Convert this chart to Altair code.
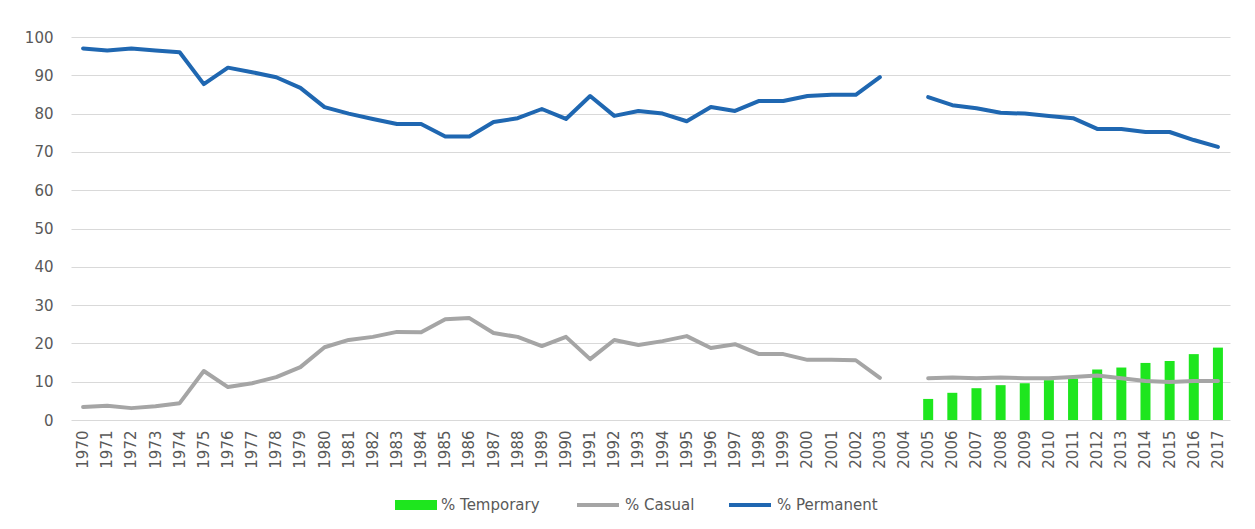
import altair as alt
import pandas as pd

years = [str(y) for y in range(1970, 2018)]

permanent = [97.0, 96.5, 97.0, 96.5, 96.0, 87.7, 92.0, 90.8, 89.5, 86.7,
             81.7, 80.0, 78.6, 77.3, 77.3, 74.0, 74.0, 77.8, 78.8, 81.2,
             78.6, 84.6, 79.4, 80.7, 80.0, 78.0, 81.7, 80.7, 83.3, 83.3,
             84.6, 84.9, 84.9, 89.5, None, 84.3, 82.2, 81.4, 80.2, 80.0,
             79.4, 78.8, 76.0, 76.0, 75.2, 75.2, 73.1, 71.3]

casual = [3.4, 3.7, 3.1, 3.6, 4.4, 12.8, 8.6, 9.6, 11.2, 13.8,
          19.0, 20.9, 21.7, 23.0, 22.9, 26.3, 26.6, 22.7, 21.7, 19.3,
          21.7, 15.9, 20.9, 19.6, 20.6, 21.9, 18.8, 19.8, 17.2, 17.2,
          15.7, 15.7, 15.6, 11.0, None, 10.9, 11.1, 10.9, 11.1, 10.9,
          10.9, 11.2, 11.6, 10.9, 10.2, 9.9, 10.2, 10.2]

temporary = [None] * 35 + [5.5, 7.1, 8.3, 9.1, 9.6, 10.4, 10.8, 13.2, 13.7,
                           14.9, 15.4, 17.2, 18.9]

line_series = ["% Casual", "% Permanent"]
bar_series = ["% Temporary"]

rows = []
for name, vals in zip(line_series, [casual, permanent]):
    for y, v in zip(years, vals):
        if v is not None:
            rows.append({"year": y, "series": name, "value": v,
                         "segment": "a" if int(y) < 2004 else "b"})
lines_df = pd.DataFrame(rows)

bar_rows = [{"year": y, "series": bar_series[0], "value": v}
            for y, v in zip(years, temporary) if v is not None]
bars_df = pd.DataFrame(bar_rows)

FONT = "DejaVu Sans"
TXT = "#595959"

x_enc = alt.X(
    "year:O",
    scale=alt.Scale(domain=years, paddingInner=0, paddingOuter=0),
    axis=alt.Axis(title=None, labelAngle=270, ticks=False, tickSize=0,
                  domain=False, grid=False, labelPadding=10,
                  labelFont=FONT, labelFontSize=15, labelColor=TXT),
)
y_enc = alt.Y(
    "value:Q",
    scale=alt.Scale(domain=[0, 100], nice=False),
    axis=alt.Axis(title=None, values=list(range(0, 101, 10)), ticks=False,
                  tickSize=0, domain=False, grid=True, gridColor="#d9d9d9",
                  gridWidth=1, labelPadding=18, labelFont=FONT,
                  labelFontSize=15, labelColor=TXT),
)

bars = alt.Chart(bars_df).mark_bar(size=10).encode(
    x=x_enc,
    y=y_enc,
    color=alt.Color(
        "series:N",
        scale=alt.Scale(domain=bar_series, range=["#1ee61e"]),
        legend=alt.Legend(title=None, orient="none", legendX=324, legendY=447,
                          direction="horizontal",
                          symbolType="M-1,-0.24H1V0.24H-1Z", symbolSize=1764,
                          symbolStrokeWidth=0, symbolOpacity=1,
                          labelFont=FONT, labelFontSize=15, labelColor=TXT,
                          labelOffset=4),
    ),
)

lines = alt.Chart(lines_df).mark_line(strokeWidth=4, strokeJoin="round",
                                      strokeCap="round").encode(
    x=x_enc,
    y=y_enc,
    detail="segment:N",
    color=alt.Color(
        "series:N",
        scale=alt.Scale(domain=line_series, range=["#a5a5a5", "#1f67b1"]),
        legend=alt.Legend(title=None, orient="none", legendX=504, legendY=445,
                          direction="horizontal", symbolType="stroke",
                          symbolSize=1764, symbolStrokeWidth=4,
                          columnPadding=26, labelFont=FONT, labelFontSize=15,
                          labelColor=TXT, labelOffset=4),
    ),
)

chart = alt.layer(bars, lines).resolve_scale(color="independent").properties(
    width=1159,
    height=383,
    padding={"left": 63, "top": 29, "right": 17, "bottom": 101},
    autosize=alt.AutoSizeParams(type="none"),
).configure_view(stroke=None)

chart.save("out.html", embed_options={"renderer": "svg", "actions": False})
